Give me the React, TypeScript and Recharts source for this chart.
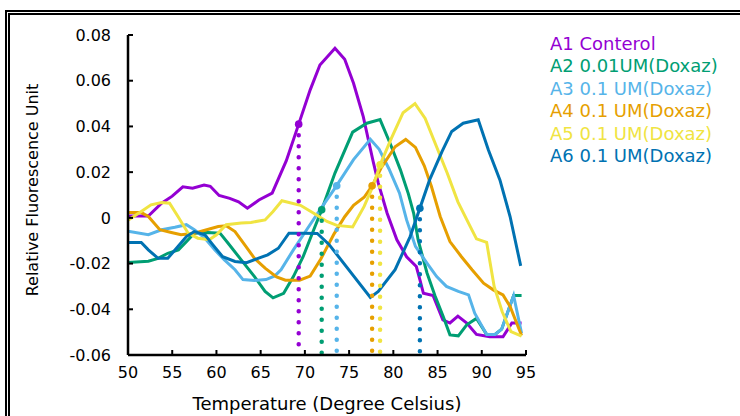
import React from 'react';
import { LineChart, Line, XAxis, YAxis, ReferenceLine, ReferenceDot, Legend, Label } from 'recharts';

type Pt = [number, number];

const seriesNames = ['A1 Conterol', 'A2 0.01UM(Doxaz)', 'A3 0.1 UM(Doxaz)', 'A4 0.1 UM(Doxaz)', 'A5 0.1 UM(Doxaz)', 'A6 0.1 UM(Doxaz)'];
const seriesColors = ['#9400d3', '#009e73', '#56b4e9', '#e69f00', '#f0e442', '#0072b2'];

// [temperature, relative fluorescence]
const a1: Pt[] = [[50.0,0.0008],[52.3,0.0008],[53.8,0.0064],[55.0,0.0095],[56.2,0.0136],[57.3,0.013],[58.6,0.0144],[59.3,0.0138],[60.3,0.0098],[61.5,0.0085],[62.5,0.007],[63.5,0.0042],[64.8,0.0078],[66.3,0.0108],[67.9,0.025],[69.3,0.041],[70.6,0.056],[71.7,0.0669],[73.4,0.0742],[74.5,0.0694],[75.5,0.0589],[76.6,0.0443],[77.7,0.025],[78.3,0.0152],[79.3,0.002],[80.4,-0.0096],[81.5,-0.017],[82.6,-0.0213],[83.0,-0.027],[83.4,-0.033],[84.5,-0.034],[85.6,-0.0446],[86.4,-0.046],[87.3,-0.043],[88.3,-0.046],[89.4,-0.051],[90.9,-0.052],[92.4,-0.052],[93.4,-0.046],[94.5,-0.046]];
const a2: Pt[] = [[50.0,-0.0195],[52.3,-0.019],[53.4,-0.0177],[54.5,-0.0155],[55.7,-0.014],[56.6,-0.0104],[57.5,-0.0067],[59.0,-0.0064],[60.4,-0.0067],[61.3,-0.011],[62.8,-0.0184],[64.3,-0.0257],[65.5,-0.0322],[66.4,-0.035],[67.6,-0.033],[68.7,-0.0257],[69.8,-0.017],[71.0,-0.0052],[71.9,0.0035],[73.4,0.0196],[75.4,0.0375],[77.0,0.0414],[78.5,0.043],[79.7,0.032],[80.8,0.021],[81.7,0.0105],[82.3,0.002],[82.8,-0.0096],[83.8,-0.024],[84.7,-0.034],[85.65,-0.0433],[86.4,-0.0512],[87.35,-0.0516],[88.3,-0.0468],[89.4,-0.044],[90.55,-0.051],[91.5,-0.051],[92.25,-0.0487],[93.6,-0.034],[94.5,-0.034]];
const a3: Pt[] = [[50.0,-0.0058],[52.3,-0.0074],[53.8,-0.0052],[55.3,-0.0041],[56.6,-0.003],[57.5,-0.0052],[58.7,-0.0089],[59.8,-0.014],[60.9,-0.0184],[62.1,-0.0227],[63.0,-0.027],[64.3,-0.0274],[65.6,-0.027],[66.6,-0.0254],[67.3,-0.0227],[68.7,-0.014],[70.2,-0.0052],[71.7,0.0035],[73.4,0.013],[75.5,0.0255],[77.4,0.0344],[78.4,0.03],[79.5,0.0215],[80.7,0.0108],[81.5,-0.0009],[82.5,-0.0125],[83.8,-0.0198],[84.9,-0.0257],[86.0,-0.03],[87.35,-0.0322],[88.5,-0.0337],[89.2,-0.0417],[90.55,-0.051],[91.5,-0.051],[92.25,-0.0487],[93.6,-0.034],[94.5,-0.0505]];
const a4: Pt[] = [[50.0,0.0023],[51.5,0.0023],[52.3,0.0006],[53.6,-0.0052],[54.9,-0.0064],[56.0,-0.0074],[57.5,-0.0067],[58.9,-0.0052],[60.2,-0.0038],[61.1,-0.0035],[62.1,-0.006],[63.2,-0.0118],[64.3,-0.0177],[65.5,-0.022],[66.8,-0.0258],[67.8,-0.0273],[69.4,-0.0273],[70.6,-0.0255],[71.8,-0.018],[73.3,-0.007],[74.5,0.0005],[75.5,0.0055],[76.7,0.009],[77.6,0.014],[78.6,0.0217],[80.2,0.0311],[81.4,0.0343],[82.5,0.0308],[83.5,0.0228],[84.3,0.0138],[85.3,0.0006],[86.4,-0.0104],[87.7,-0.017],[88.9,-0.0227],[90.2,-0.0286],[91.3,-0.0315],[92.4,-0.0337],[93.2,-0.0388],[94.5,-0.0515]];
const a5: Pt[] = [[50.0,-0.001],[51.5,0.0028],[52.6,0.0057],[53.8,0.0067],[54.7,0.0064],[55.65,0.0006],[56.8,-0.0067],[57.9,-0.0089],[59.2,-0.0096],[60.0,-0.0074],[61.1,-0.003],[62.8,-0.0023],[63.9,-0.002],[65.5,-0.0009],[66.4,0.0028],[67.4,0.0075],[69.5,0.0055],[71.0,0.002],[72.5,-0.0016],[73.6,-0.0033],[75.4,-0.004],[76.7,0.005],[77.7,0.014],[78.5,0.0232],[79.8,0.035],[81.1,0.046],[82.45,0.05],[83.6,0.0435],[84.9,0.031],[86.1,0.0195],[87.3,0.007],[88.5,-0.0023],[89.4,-0.0092],[90.55,-0.0107],[91.4,-0.03],[92.3,-0.041],[93.3,-0.0498],[94.5,-0.0517]];
const a6: Pt[] = [[50.0,-0.0108],[51.5,-0.0108],[52.3,-0.014],[53.4,-0.0177],[54.5,-0.0177],[55.65,-0.0125],[56.6,-0.0082],[57.5,-0.006],[58.7,-0.0074],[59.6,-0.0118],[60.7,-0.017],[62.1,-0.0191],[63.4,-0.0196],[64.7,-0.0177],[65.8,-0.0162],[67.0,-0.0133],[68.2,-0.0067],[69.8,-0.0067],[71.4,-0.0068],[72.7,-0.0115],[77.4,-0.0348],[78.3,-0.0322],[80.2,-0.0227],[81.9,-0.0082],[84.1,0.0166],[85.5,0.029],[86.6,0.0378],[87.9,0.0414],[89.6,0.0429],[90.75,0.0297],[92.05,0.0166],[93.2,0.0006],[94.4,-0.021]];

// melting points (Tm) and curve value at Tm
const meltTemps = [69.3, 71.9, 73.6, 77.6, 78.5, 83.0];
const meltValues = [0.041, 0.0035, 0.014, 0.014, 0.0232, 0.0042];

const xTicks = [50, 55, 60, 65, 70, 75, 80, 85, 90, 95];
const yTicks = [-0.06, -0.04, -0.02, 0, 0.02, 0.04, 0.06, 0.08];
const xDomain = [50, 95];
const yDomain = [-0.06, 0.08];

const allSeries = [a1, a2, a3, a4, a5, a6];

const FONT = 'DejaVu Sans';

const toRows = (pts: Pt[]) => pts.map(([t, v]) => ({ t, v }));

const fmtY = (v: number) => (v === 0 ? '0' : v.toFixed(2));

const renderLegend = () => (
  <div style={{ fontFamily: FONT, fontSize: 18 }}>
    {seriesNames.map((n, i) => (
      <div key={n} style={{ color: seriesColors[i], lineHeight: '22.4px', height: 22.4, whiteSpace: 'nowrap' }}>{n}</div>
    ))}
  </div>
);

export default function App() {
  return (
    <div style={{ position: 'absolute', left: 0, top: 0, width: 740, height: 416, overflow: 'hidden', background: '#fff' }}>
      <div style={{ position: 'absolute', left: 5, top: 10, width: 800, height: 500, border: '5px double #000', boxSizing: 'border-box' }} />
      <div style={{ position: 'absolute', left: 0, top: 0 }}>
        <LineChart width={740} height={416} margin={{ top: 35, right: 214, bottom: 0, left: 0 }}>
          <XAxis xAxisId="b" dataKey="t" type="number" domain={xDomain} ticks={xTicks} allowDataOverflow
            height={61} axisLine={{ stroke: '#000', strokeWidth: 2.5 }} tickLine={{ stroke: '#000', strokeWidth: 2 }}
            tickSize={-5} tickMargin={17} tick={{ fontSize: 16, fill: '#000', fontFamily: FONT }} interval={0}>
            <Label value="Temperature (Degree Celsius)" position="insideBottom" offset={6}
              style={{ fontSize: 18, fill: '#000', fontFamily: FONT }} />
          </XAxis>
          <XAxis xAxisId="top" orientation="top" dataKey="t" type="number" domain={xDomain} ticks={xTicks} allowDataOverflow
            height={0} axisLine={{ stroke: '#000', strokeWidth: 2.5 }} tickLine={{ stroke: '#000', strokeWidth: 2 }}
            tickSize={-5} tick={false} interval={0} />
          <YAxis yAxisId="l" type="number" domain={yDomain} ticks={yTicks} allowDataOverflow width={128}
            axisLine={{ stroke: '#000', strokeWidth: 2.5 }} tickLine={{ stroke: '#000', strokeWidth: 2 }}
            tickSize={-5} tickMargin={22} tickFormatter={fmtY} interval={0}
            tick={{ fontSize: 16, fill: '#000', fontFamily: FONT }}>
            <Label value="Relative Fluorescence Unit"
              content={(p: any) => {
                const vb = p.viewBox || { x: 0, y: 35, width: 128, height: 320 };
                const cx = vb.x + 32;
                const cy = vb.y + vb.height / 2 - 5;
                return (
                  <text x={cx} y={cy} transform={`rotate(-90 ${cx} ${cy})`} textAnchor="middle" dominantBaseline="central"
                    style={{ fontSize: 16, fill: '#000', fontFamily: FONT }}>Relative Fluorescence Unit</text>
                );
              }} />
          </YAxis>
          <YAxis yAxisId="r" orientation="right" type="number" domain={yDomain} ticks={yTicks} allowDataOverflow width={0}
            axisLine={{ stroke: '#000', strokeWidth: 2.5 }} tickLine={{ stroke: '#000', strokeWidth: 2 }}
            tickSize={-5} tick={false} interval={0} />
          <Legend layout="horizontal" verticalAlign="middle" align="center" content={renderLegend}
            wrapperStyle={{ left: 550, top: 33, width: 190 }} />
          {allSeries.map((s, i) => (
            <Line key={seriesNames[i]} xAxisId="b" yAxisId="l" data={toRows(s)} dataKey="v" name={seriesNames[i]}
              type="linear" stroke={seriesColors[i]} strokeWidth={3} dot={false} activeDot={false}
              isAnimationActive={false} legendType="none" />
          ))}
          {meltTemps.map((t, i) => (
            <ReferenceLine key={'rl' + i} xAxisId="b" yAxisId="l" segment={[{ x: t, y: meltValues[i] }, { x: t, y: yDomain[0] }]}
              stroke={seriesColors[i]} strokeWidth={4.5} strokeDasharray="0 11" strokeLinecap="round" ifOverflow="visible" />
          ))}
          {meltTemps.map((t, i) => (
            <ReferenceDot key={'rd' + i} xAxisId="b" yAxisId="l" x={t} y={meltValues[i]} r={3.8}
              fill={seriesColors[i]} stroke="none" ifOverflow="visible" />
          ))}
        </LineChart>
      </div>
    </div>
  );
}
